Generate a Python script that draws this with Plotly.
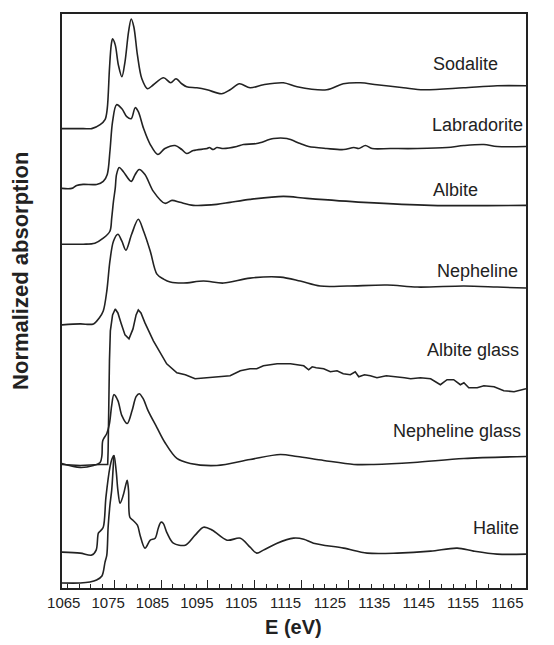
import plotly.graph_objects as go

# ---------------- data (E in eV, stacked normalized absorption) ----------------
sodalite_E = [1064.5, 1069.4, 1071.3, 1073.2, 1074.3, 1074.8, 1075.3, 1075.7, 1076.0, 1076.6,
              1077.3, 1078.1, 1078.8, 1079.6, 1080.2, 1080.8, 1081.6, 1082.6, 1083.9, 1085.2,
              1087.5, 1089.1, 1090.3, 1091.6, 1092.7, 1095.0, 1097.3, 1100.6, 1102.5, 1104.6,
              1107.0, 1110.0, 1114.5, 1117.6, 1124.3, 1128.0, 1131.9, 1135.6, 1141.6, 1146.1,
              1155.1, 1162.7, 1169.2]
sodalite_mu = [4.61, 4.61, 4.61, 4.65, 4.70, 4.81, 5.21, 5.45, 5.51, 5.45,
               5.25, 5.13, 5.28, 5.58, 5.71, 5.63, 5.35, 5.11, 5.01, 5.05,
               5.12, 5.07, 5.11, 5.06, 5.03, 5.02, 5.00, 4.96, 5.00, 5.06,
               5.02, 5.05, 5.07, 5.03, 5.00, 5.06, 5.07, 5.05, 5.02, 5.00,
               5.02, 5.04, 5.04]

labradorite_E = [1064.5, 1066.8, 1067.9, 1069.4, 1072.4, 1073.9, 1074.8, 1075.4, 1076.0, 1076.9,
                 1078.1, 1079.2, 1080.2, 1081.1, 1081.8, 1083.0, 1084.5, 1086.2, 1087.8, 1090.1,
                 1091.6, 1092.7, 1094.2, 1097.3, 1097.8, 1098.7, 1099.5, 1101.0, 1104.0, 1105.5,
                 1108.5, 1112.3, 1115.3, 1118.3, 1120.2, 1124.3, 1128.1, 1130.4, 1131.5, 1133.0,
                 1134.5, 1138.6, 1144.7, 1151.4, 1155.2, 1159.7, 1162.7, 1169.2]
labradorite_mu = [4.01, 4.01, 4.04, 4.05, 4.05, 4.08, 4.15, 4.38, 4.68, 4.85,
                  4.81, 4.73, 4.71, 4.82, 4.78, 4.61, 4.45, 4.35, 4.41, 4.44,
                  4.40, 4.36, 4.39, 4.41, 4.42, 4.40, 4.42, 4.41, 4.43, 4.45,
                  4.46, 4.51, 4.51, 4.46, 4.43, 4.41, 4.40, 4.42, 4.41, 4.44,
                  4.41, 4.41, 4.41, 4.42, 4.44, 4.45, 4.43, 4.43]

albite_E = [1064.5, 1069.4, 1072.0, 1073.9, 1075.4, 1075.8, 1076.2, 1076.6, 1076.9, 1077.5,
            1078.4, 1080.2, 1081.1, 1082.0, 1083.3, 1085.2, 1087.8, 1089.4, 1091.2, 1094.2,
            1099.5, 1102.5, 1107.0, 1114.5, 1119.8, 1132.6, 1147.7, 1169.2]
albite_mu = [3.45, 3.45, 3.46, 3.51, 3.58, 3.71, 3.88, 4.01, 4.15, 4.22,
             4.18, 4.08, 4.15, 4.20, 4.15, 3.98, 3.86, 3.89, 3.87, 3.84,
             3.85, 3.87, 3.90, 3.93, 3.91, 3.87, 3.84, 3.84]

nepheline_E = [1064.5, 1068.7, 1071.7, 1073.0, 1073.9, 1074.7, 1075.4, 1076.2, 1077.2, 1078.1,
               1079.0, 1080.3, 1081.8, 1083.0, 1084.5, 1086.0, 1087.5, 1089.0, 1092.0, 1096.5,
               1101.0, 1107.0, 1113.8, 1118.3, 1122.8, 1128.9, 1137.9, 1144.7, 1155.2, 1162.7,
               1169.2]
nepheline_mu = [2.64, 2.65, 2.65, 2.71, 2.78, 2.98, 3.28, 3.48, 3.55, 3.48,
                3.39, 3.55, 3.70, 3.58, 3.38, 3.15, 3.10, 3.07, 3.06, 3.08,
                3.06, 3.11, 3.12, 3.08, 3.03, 3.03, 3.04, 3.02, 3.03, 3.02,
                3.01]

albite_glass_E = [1064.5, 1068.7, 1073.2, 1074.9, 1075.0, 1075.1, 1075.3, 1075.5, 1076.0, 1076.6,
                  1077.2, 1077.9, 1078.8, 1079.7, 1080.6, 1081.3, 1081.8, 1082.4, 1083.3, 1085.2,
                  1086.7, 1088.2, 1090.5, 1092.4, 1094.6, 1098.0, 1102.5, 1104.8, 1107.0, 1108.5,
                  1110.0, 1113.1, 1116.1, 1119.1, 1120.2, 1121.0, 1121.9, 1123.6, 1125.1, 1126.6,
                  1128.0, 1129.6, 1130.7, 1131.5, 1132.8, 1134.1, 1135.6, 1137.7, 1140.2, 1141.8,
                  1143.2, 1145.4, 1147.7, 1148.8, 1149.9, 1151.4, 1152.9, 1154.4, 1155.2, 1156.3,
                  1158.2, 1159.7, 1162.0, 1164.2, 1166.5, 1169.2]
albite_glass_mu = [1.24, 1.23, 1.24, 1.24, 1.38, 1.88, 2.28, 2.58, 2.74, 2.80,
                   2.76, 2.66, 2.54, 2.50, 2.60, 2.74, 2.79, 2.76, 2.66, 2.48,
                   2.36, 2.25, 2.16, 2.14, 2.10, 2.11, 2.13, 2.18, 2.20, 2.20,
                   2.23, 2.25, 2.25, 2.23, 2.19, 2.22, 2.21, 2.20, 2.17, 2.18,
                   2.15, 2.14, 2.17, 2.12, 2.14, 2.13, 2.11, 2.13, 2.12, 2.11,
                   2.10, 2.11, 2.10, 2.07, 2.04, 2.09, 2.09, 2.04, 2.06, 2.01,
                   2.01, 2.03, 2.02, 1.98, 1.97, 2.00]

nepheline_glass_E = [1064.5, 1068.7, 1071.7, 1073.2, 1073.6, 1073.8, 1074.7, 1075.3, 1075.8, 1076.3,
                     1077.2, 1078.1, 1079.3, 1080.4, 1081.3, 1082.0, 1082.9, 1084.0, 1086.0, 1087.8,
                     1090.5, 1093.5, 1099.5, 1107.0, 1113.8, 1117.6, 1123.6, 1130.4, 1134.9, 1143.9,
                     1155.2, 1169.2]
nepheline_glass_mu = [1.25, 1.21, 1.23, 1.26, 1.33, 1.48, 1.55, 1.65, 1.83, 1.94,
                      1.88, 1.73, 1.65, 1.78, 1.92, 1.95, 1.90, 1.78, 1.61, 1.46,
                      1.30, 1.25, 1.23, 1.29, 1.34, 1.32, 1.28, 1.24, 1.24, 1.26,
                      1.30, 1.32]

halite_E = [1064.5, 1068.7, 1071.3, 1072.3, 1072.8, 1073.2, 1073.9, 1074.5, 1075.4, 1075.9,
            1076.3, 1076.8, 1077.2, 1077.7, 1078.4, 1079.0, 1079.3, 1079.6, 1079.9, 1080.6,
            1081.6, 1082.2, 1083.3, 1084.5, 1085.6, 1086.3, 1086.9, 1087.4, 1088.3, 1089.7,
            1092.4, 1094.6, 1096.5, 1098.5, 1101.8, 1104.8, 1107.0, 1108.5, 1110.0, 1113.1,
            1116.8, 1119.1, 1121.3, 1128.1, 1133.4, 1140.2, 1147.7, 1153.7, 1157.4, 1162.7,
            1169.2]
halite_mu = [0.36, 0.35, 0.33, 0.38, 0.55, 0.57, 0.61, 0.91, 1.21, 1.30,
             1.33, 1.18, 0.98, 0.85, 0.93, 1.04, 1.08, 0.98, 0.71, 0.68,
             0.63, 0.53, 0.40, 0.48, 0.50, 0.60, 0.66, 0.65, 0.55, 0.45,
             0.43, 0.53, 0.61, 0.58, 0.48, 0.50, 0.41, 0.35, 0.38, 0.45,
             0.50, 0.49, 0.45, 0.40, 0.35, 0.35, 0.37, 0.40, 0.37, 0.34,
             0.34]

halite_edge_E = [1064.5, 1068.7, 1070.9, 1072.4, 1073.6, 1074.3, 1074.7, 1075.0, 1075.4, 1075.8,
                 1076.1, 1076.3]
halite_edge_mu = [0.05, 0.05, 0.06, 0.08, 0.12, 0.26, 0.33, 0.61, 0.83, 0.98,
                  1.18, 1.33]

series_names = ["Sodalite", "Labradorite", "Albite", "Nepheline",
                "Albite glass", "Nepheline glass", "Halite"]
series_E = [sodalite_E, labradorite_E, albite_E, nepheline_E,
            albite_glass_E, nepheline_glass_E, halite_E]
series_mu = [sodalite_mu, labradorite_mu, albite_mu, nepheline_mu,
             albite_glass_mu, nepheline_glass_mu, halite_mu]

x_tick_labels = [1065, 1075, 1085, 1095, 1105, 1115, 1125, 1135, 1145, 1155, 1165]

# ---------------- layout / style ----------------
X_RANGE = [1064.6, 1169.2]
Y_RANGE = [0, 5.76]
INK = "#222222"
FONT = "Liberation Sans, Arial, sans-serif"

label_pos = {  # (E, mu, xanchor)
    "Sodalite": (1147.7, 5.263, "left"),
    "Labradorite": (1147.5, 4.647, "left"),
    "Albite": (1147.7, 3.997, "left"),
    "Nepheline": (1148.6, 3.18, "left"),
    "Albite glass": (1168.1, 2.387, "right"),
    "Nepheline glass": (1168.5, 1.58, "right"),
    "Halite": (1168.1, 0.607, "right"),
}

# tick marks (their own spacing in the figure)
TICK_START, TICK_STEP, N_TICKS = 1065.86, 2.635, 39
MAJOR_IDX = [4, 8, 12, 16, 20, 24, 31, 35]
all_ticks = [TICK_START + i * TICK_STEP for i in range(N_TICKS)]
major_ticks = [all_ticks[i] for i in MAJOR_IDX]
minor_ticks = [t for i, t in enumerate(all_ticks) if i not in MAJOR_IDX]

fig = go.Figure()
for name, E, mu in zip(series_names, series_E, series_mu):
    shape = "linear" if name == "Albite glass" else "spline"
    fig.add_trace(go.Scatter(x=E, y=mu, mode="lines", name=name,
                             line=dict(color=INK, width=1.6, shape=shape, smoothing=0.9)))
fig.add_trace(go.Scatter(x=halite_edge_E, y=halite_edge_mu, mode="lines", name="Halite (edge)",
                         xaxis="x2",
                         line=dict(color=INK, width=1.6, shape="spline", smoothing=0.9)))
# carrier for the minor-tick axis (no visible marks)
fig.add_trace(go.Scatter(x=[X_RANGE[0]], y=[Y_RANGE[0]], mode="markers", xaxis="x3",
                         marker=dict(opacity=0), hoverinfo="skip", showlegend=False))

for name in series_names:
    ex, ey, anc = label_pos[name]
    fig.add_annotation(x=ex, y=ey, text=name, showarrow=False, xanchor=anc, yanchor="middle",
                       font=dict(family=FONT, size=18, color=INK))

fig.add_annotation(text="<b>E (eV)</b>", xref="paper", yref="paper", x=0.499, y=-0.068,
                   showarrow=False, xanchor="center", yanchor="middle",
                   font=dict(family=FONT, size=20, color=INK))
fig.add_annotation(text="<b>Normalized absorption</b>", xref="paper", yref="paper",
                   x=-0.091, y=0.552, textangle=-90, showarrow=False,
                   xanchor="center", yanchor="middle",
                   font=dict(family=FONT, size=22, color=INK))

tick_axis = dict(range=X_RANGE, overlaying="x", anchor="y", side="bottom",
                 tickmode="array", ticks="inside", tickwidth=1.3, tickcolor=INK,
                 showticklabels=False, showline=False, showgrid=False, zeroline=False)

fig.update_layout(
    width=554, height=645,
    margin=dict(l=62, r=28, t=12, b=57),
    paper_bgcolor="white", plot_bgcolor="white",
    showlegend=False,
    xaxis=dict(range=X_RANGE, tickmode="array", tickvals=x_tick_labels,
               ticktext=[str(v) for v in x_tick_labels], ticks="",
               tickfont=dict(family=FONT, size=15, color=INK),
               showline=True, mirror=True, linecolor=INK, linewidth=2,
               showgrid=False, zeroline=False),
    xaxis2=dict(tick_axis, tickvals=major_ticks, ticklen=8),
    xaxis3=dict(tick_axis, tickvals=minor_ticks, ticklen=4),
    yaxis=dict(range=Y_RANGE, showticklabels=False, ticks="",
               showline=True, mirror=True, linecolor=INK, linewidth=2,
               showgrid=False, zeroline=False),
)

fig.write_html("out.html")
